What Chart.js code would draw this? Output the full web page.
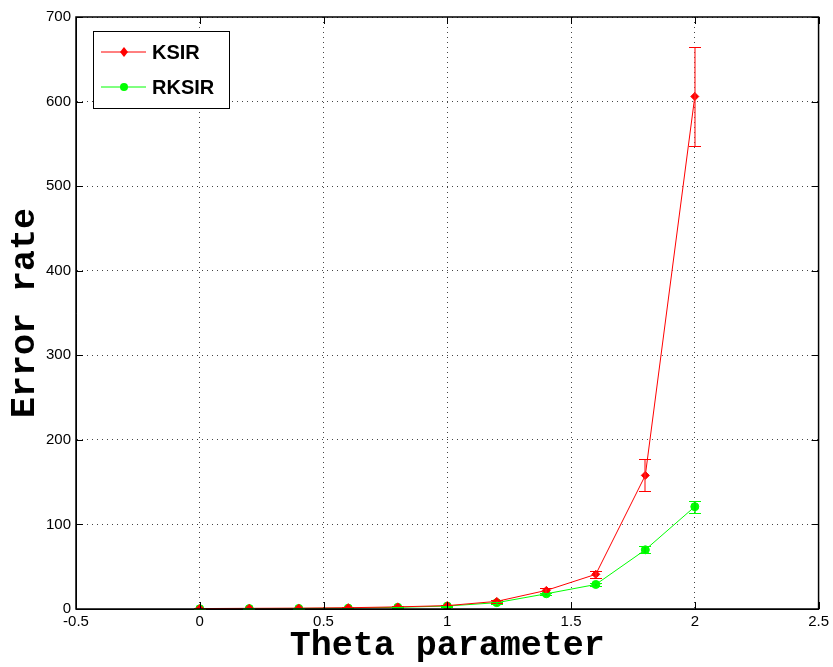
<!DOCTYPE html>
<html>
<head>
<meta charset="utf-8">
<script src="https://cdn.jsdelivr.net/npm/chart.js@4"></script>
<style>
  html, body { margin: 0; padding: 0; background: #fff; }
  #wrap { width: 833px; height: 667px; }
</style>
</head>
<body>
<div id="wrap"><canvas id="myChart" width="833" height="667"></canvas></div>
<script>
const thetas = [0, 0.2, 0.4, 0.6, 0.8, 1.0, 1.2, 1.4, 1.6, 1.8, 2.0];
const ksir = [0.5, 0.8, 1, 1.5, 2.5, 4, 9, 22, 41, 158, 606];
const ksirErr = [0.2, 0.2, 0.3, 0.4, 0.6, 0.8, 1.5, 2.5, 4, 19, 58];
const rksir = [0.3, 0.5, 0.7, 1, 2, 3.5, 7.5, 18, 29, 70, 121];
const rksirErr = [0.1, 0.2, 0.2, 0.3, 0.5, 0.6, 1, 1.5, 2, 4, 7];
const xTicks = [-0.5, 0, 0.5, 1, 1.5, 2, 2.5];
const yTicks = [0, 100, 200, 300, 400, 500, 600, 700];

const tickFont = { family: '"Liberation Sans", Arial, sans-serif', size: 15 };
const titleFont = { family: '"Liberation Mono", "Courier New", monospace', size: 35, weight: 'bold' };

const boxPlugin = {
  id: 'boxPlugin',
  afterDatasetsDraw(chart) {
    const ctx = chart.ctx;
    const xs = chart.scales.x, ys = chart.scales.y;
    ctx.save();
    chart.data.datasets.forEach(ds => {
      ds.data.forEach(p => {
        const px = Math.round(xs.getPixelForValue(p.x));
        const top = Math.round(ys.getPixelForValue(p.y + p.err)) + 0.5;
        const bot = Math.round(ys.getPixelForValue(p.y - p.err)) + 0.5;
        ctx.strokeStyle = ds.errColor;
        ctx.lineWidth = 2;
        ctx.beginPath();
        ctx.moveTo(px, top); ctx.lineTo(px, bot);
        ctx.stroke();
        ctx.strokeStyle = ds.borderColor;
        ctx.lineWidth = 1;
        ctx.beginPath();
        ctx.moveTo(px - 6, top); ctx.lineTo(px + 6, top);
        ctx.moveTo(px - 6, bot); ctx.lineTo(px + 6, bot);
        ctx.stroke();
      });
    });
    ctx.restore();
  },
  afterDraw(chart) {
    const ctx = chart.ctx;
    const a = chart.chartArea;
    const xs = chart.scales.x, ys = chart.scales.y;
    ctx.save();
    ctx.strokeStyle = '#000';
    ctx.lineWidth = 1;
    // inward ticks on all sides
    ctx.beginPath();
    xTicks.forEach(v => {
      const px = Math.round(xs.getPixelForValue(v)) + 0.5;
      ctx.moveTo(px, a.bottom); ctx.lineTo(px, a.bottom - 7);
      ctx.moveTo(px, a.top); ctx.lineTo(px, a.top + 7);
    });
    yTicks.forEach(v => {
      const py = Math.round(ys.getPixelForValue(v)) + 0.5;
      ctx.moveTo(a.left, py); ctx.lineTo(a.left + 7, py);
      ctx.moveTo(a.right, py); ctx.lineTo(a.right - 7, py);
    });
    ctx.stroke();
    ctx.lineWidth = 1.5;
    ctx.strokeRect(a.left, a.top, a.right - a.left, a.bottom - a.top);

    // legend box
    const lx = a.left + 17, ly = a.top + 14, lw = 136, lh = 77;
    ctx.fillStyle = '#fff';
    ctx.fillRect(lx, ly, lw, lh);
    ctx.lineWidth = 1;
    ctx.strokeRect(lx + 0.5, ly + 0.5, lw, lh);
    ctx.font = 'bold 20px "Liberation Sans", Arial, sans-serif';
    ctx.textBaseline = 'middle';
    chart.data.datasets.forEach((ds, i) => {
      const cy = ly + 21 + i * 35;
      ctx.strokeStyle = ds.borderColor;
      ctx.lineWidth = 1;
      ctx.beginPath();
      ctx.moveTo(lx + 8, cy); ctx.lineTo(lx + 53, cy);
      ctx.stroke();
      ctx.fillStyle = ds.borderColor;
      ctx.beginPath();
      if (ds.pointStyle === 'rectRot') {
        ctx.moveTo(lx + 31, cy - 5); ctx.lineTo(lx + 35, cy);
        ctx.lineTo(lx + 31, cy + 5); ctx.lineTo(lx + 27, cy);
        ctx.closePath();
      } else {
        ctx.arc(lx + 31, cy, 4, 0, Math.PI * 2);
      }
      ctx.fill();
      ctx.fillStyle = '#000';
      ctx.textAlign = 'left';
      ctx.fillText(ds.label, lx + 59, cy + 1);
    });
    ctx.restore();
  }
};

const ctx = document.getElementById('myChart').getContext('2d');
new Chart(ctx, {
  type: 'line',
  data: {
    datasets: [
      {
        label: 'KSIR',
        data: thetas.map((t, i) => ({ x: t, y: ksir[i], err: ksirErr[i] })),
        borderColor: 'rgb(255, 0, 0)',
        backgroundColor: 'rgb(255, 0, 0)',
        errColor: 'rgba(255, 40, 40, 0.6)',
        borderWidth: 1,
        pointStyle: 'rectRot',
        pointRadius: 4,
        fill: false,
      },
      {
        label: 'RKSIR',
        data: thetas.map((t, i) => ({ x: t, y: rksir[i], err: rksirErr[i] })),
        borderColor: 'rgb(0, 255, 0)',
        backgroundColor: 'rgb(0, 255, 0)',
        errColor: 'rgba(0, 230, 0, 0.7)',
        borderWidth: 1,
        pointStyle: 'circle',
        pointRadius: 4,
        fill: false,
      },
    ],
  },
  options: {
    responsive: false,
    animation: false,
    layout: { autoPadding: false, padding: { top: 17, right: 13, left: 4, bottom: 0 } },
    plugins: { legend: { display: false }, tooltip: { enabled: false } },
    scales: {
      x: {
        type: 'linear',
        min: -0.5,
        max: 2.5,
        afterFit(s) { s.height = 58; },
        afterBuildTicks(s) { s.ticks = xTicks.map(v => ({ value: v })); },
        grid: { color: '#444', drawTicks: false },
        border: { display: true, color: '#000', dash: [1, 4] },
        ticks: { color: '#000', font: tickFont, padding: 4, maxRotation: 0, callback: v => String(v) },
        title: { display: true, text: 'Theta parameter', color: '#000', font: titleFont, padding: { top: -4, bottom: 0 } },
      },
      y: {
        min: 0,
        max: 700,
        afterFit(s) { s.width = 72; },
        afterBuildTicks(s) { s.ticks = yTicks.map(v => ({ value: v })); },
        grid: { color: '#444', drawTicks: false },
        border: { display: true, color: '#000', dash: [1, 4] },
        ticks: { color: '#000', font: tickFont, padding: 5, callback: v => String(v) },
        title: { display: true, text: 'Error rate', color: '#000', font: titleFont, padding: { top: 0, bottom: 0 } },
      },
    },
  },
  plugins: [boxPlugin],
});
</script>
</body>
</html>
